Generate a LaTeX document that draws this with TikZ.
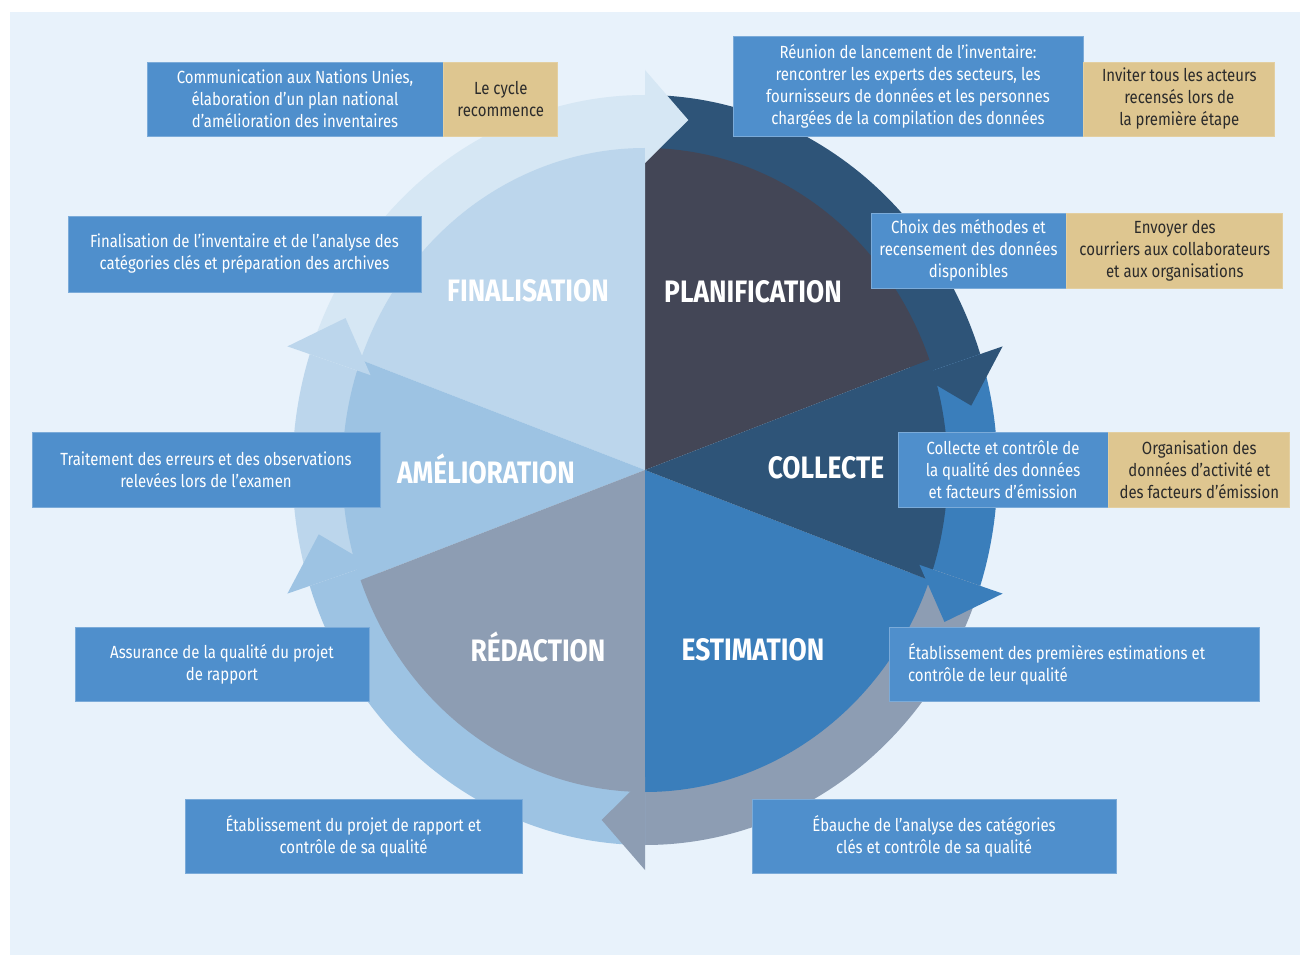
\documentclass[tikz,border=0pt]{standalone}
\usepackage{fontspec}
\setmainfont{Fira Sans}[FakeStretch=0.85]
\usetikzlibrary{positioning}

\definecolor{fond}{HTML}{E8F2FB}
\definecolor{boite}{HTML}{4F8FCC}
\definecolor{sable}{HTML}{DEC690}
\definecolor{encre}{HTML}{2B2B2B}
\definecolor{marine}{HTML}{2E5478}
\definecolor{ardoise}{HTML}{434656}
\definecolor{bleu}{HTML}{3A7EBB}
\definecolor{gris}{HTML}{8D9DB3}
\definecolor{ciel}{HTML}{9DC3E3}
\definecolor{pale}{HTML}{BCD6EC}
\definecolor{brume}{HTML}{D6E7F4}

\tikzset{
x=0.5pt, y=0.5pt, % one unit = one pixel of the layout grid
task/.style={fill=boite, draw=boite!75!white, line width=0.4pt, text=white, align=center, inner sep=0pt, font=\fontsize{8.8}{11}\selectfont}, % blue step boxes
note/.style={fill=sable, draw=sable!85!white, line width=0.4pt, text=encre, align=center, inner sep=0pt, font=\fontsize{8.8}{11}\selectfont}, % sand side notes
phase/.style={text=white, font=\bfseries\fontsize{15.5}{17}\selectfont}, % names of the phases
}

\begin{document}
\begin{tikzpicture}

\useasboundingbox (0,0) rectangle (1308,-957);
\fill[white] (0,0) rectangle (1308,-957);
\fill[fond] (10,-12) rectangle (1300,-955);

% the wheel
\begin{scope}[shift={(645,-470)}, xscale=0.94]
% ring
\fill[marine] (90:375) arc[start angle=90, end angle=18, radius=375] -- (18:300) arc[start angle=18, end angle=90, radius=300] -- cycle;
\fill[bleu] (18:375) arc[start angle=18, end angle=-18, radius=375] -- (-18:300) arc[start angle=-18, end angle=18, radius=300] -- cycle;
\fill[gris] (-18:375) arc[start angle=-18, end angle=-90, radius=375] -- (-90:300) arc[start angle=-90, end angle=-18, radius=300] -- cycle;
\fill[ciel] (270:375) arc[start angle=270, end angle=198, radius=375] -- (198:300) arc[start angle=198, end angle=270, radius=300] -- cycle;
\fill[pale] (198:375) arc[start angle=198, end angle=162, radius=375] -- (162:300) arc[start angle=162, end angle=198, radius=300] -- cycle;
\fill[brume] (162:375) arc[start angle=162, end angle=90, radius=375] -- (90:300) arc[start angle=90, end angle=162, radius=300] -- cycle;

% sectors
\fill[ardoise] (0,0) -- (20:322) arc[start angle=20, end angle=90, radius=322] -- cycle;
\fill[pale] (0,0) -- (90:322) arc[start angle=90, end angle=160, radius=322] -- cycle;
\fill[ciel] (0,0) -- (160:322) arc[start angle=160, end angle=200, radius=322] -- cycle;
\fill[gris] (0,0) -- (200:322) arc[start angle=200, end angle=270, radius=322] -- cycle;
\fill[bleu] (0,0) -- (270:322) arc[start angle=270, end angle=340, radius=322] -- cycle;
\fill[marine] (0,0) -- (-20:322) arc[start angle=-20, end angle=20, radius=322] -- cycle;

% arrow heads
\fill[brume] (90:307) -- (90:400) -- (82.5:353) -- cycle;
\fill[marine] (18:307) -- (18:400) -- (10.5:353) -- cycle;
\fill[bleu] (-18:307) -- (-18:400) -- (-25.5:353) -- cycle;
\fill[gris] (270:307) -- (270:400) -- (262.5:353) -- cycle;
\fill[ciel] (198:307) -- (198:400) -- (190.5:353) -- cycle;
\fill[pale] (162:307) -- (162:400) -- (154.5:353) -- cycle;
\end{scope}

\node[phase] (lplan) at (753,-292) {PLANIFICATION};
\node[phase] (lfinal) at (528,-291) {FINALISATION};
\node[phase] (lamel) at (486,-469) {AMÉLIORATION};
\node[phase] (lcoll) at (826,-468) {COLLECTE};
\node[phase] (lredac) at (538,-647) {RÉDACTION};
\node[phase] (lestim) at (753,-650) {ESTIMATION};

% steps and notes
\node[task, minimum width=148pt, minimum height=37pt] (comm) at (295,-99) {Communication aux Nations Unies,\\élaboration d’un plan national\\d’amélioration des inventaires};
\node[note, minimum width=57pt, minimum height=37pt, right=0pt of comm] (cycle) {Le cycle\\recommence};

\node[task, minimum width=175pt, minimum height=50pt] (reunion) at (908,-86) {Réunion de lancement de l’inventaire:\\rencontrer les experts des secteurs, les\\fournisseurs de données et les personnes\\chargées de la compilation des données};
\node[note, minimum width=95.5pt, minimum height=37pt, anchor=south west] (inviter) at (reunion.south east) {Inviter tous les acteurs\\recensés lors de\\la première étape};

\node[task, minimum width=176.5pt, minimum height=38pt] (finalis) at (244.5,-254) {Finalisation de l’inventaire et de l’analyse des\\catégories clés et préparation des archives};

\node[task, minimum width=97.5pt, minimum height=37.5pt] (choix) at (968.5,-250.5) {Choix des méthodes et\\recensement des données\\disponibles};
\node[note, minimum width=108pt, minimum height=37.5pt, right=0pt of choix] (envoyer) {Envoyer des\\courriers aux collaborateurs\\et aux organisations};

\node[task, minimum width=174pt, minimum height=37.5pt] (traitement) at (206,-469.5) {Traitement des erreurs et des observations\\relevées lors de l’examen};

\node[task, minimum width=105pt, minimum height=37.5pt] (collecte) at (1003,-469.5) {Collecte et contrôle de\\la qualité des données\\et facteurs d’émission};
\node[note, minimum width=90.5pt, minimum height=37.5pt, right=0pt of collecte] (organis) {Organisation des\\données d’activité et\\des facteurs d’émission};

\node[task, minimum width=147pt, minimum height=37pt] (assurance) at (222,-664) {Assurance de la qualité du projet\\de rapport};

\node[task, minimum width=185pt, minimum height=37pt, text width=166pt, align=flush left] (estimations) at (1074,-664) {Établissement des premières estimations et\\contrôle de leur qualité};

\node[task, minimum width=168.5pt, minimum height=37pt] (projet) at (353.5,-836) {Établissement du projet de rapport et\\contrôle de sa qualité};

\node[task, minimum width=182pt, minimum height=37pt] (ebauche) at (934,-836) {Ébauche de l’analyse des catégories\\clés et contrôle de sa qualité};

\end{tikzpicture}
\end{document}
